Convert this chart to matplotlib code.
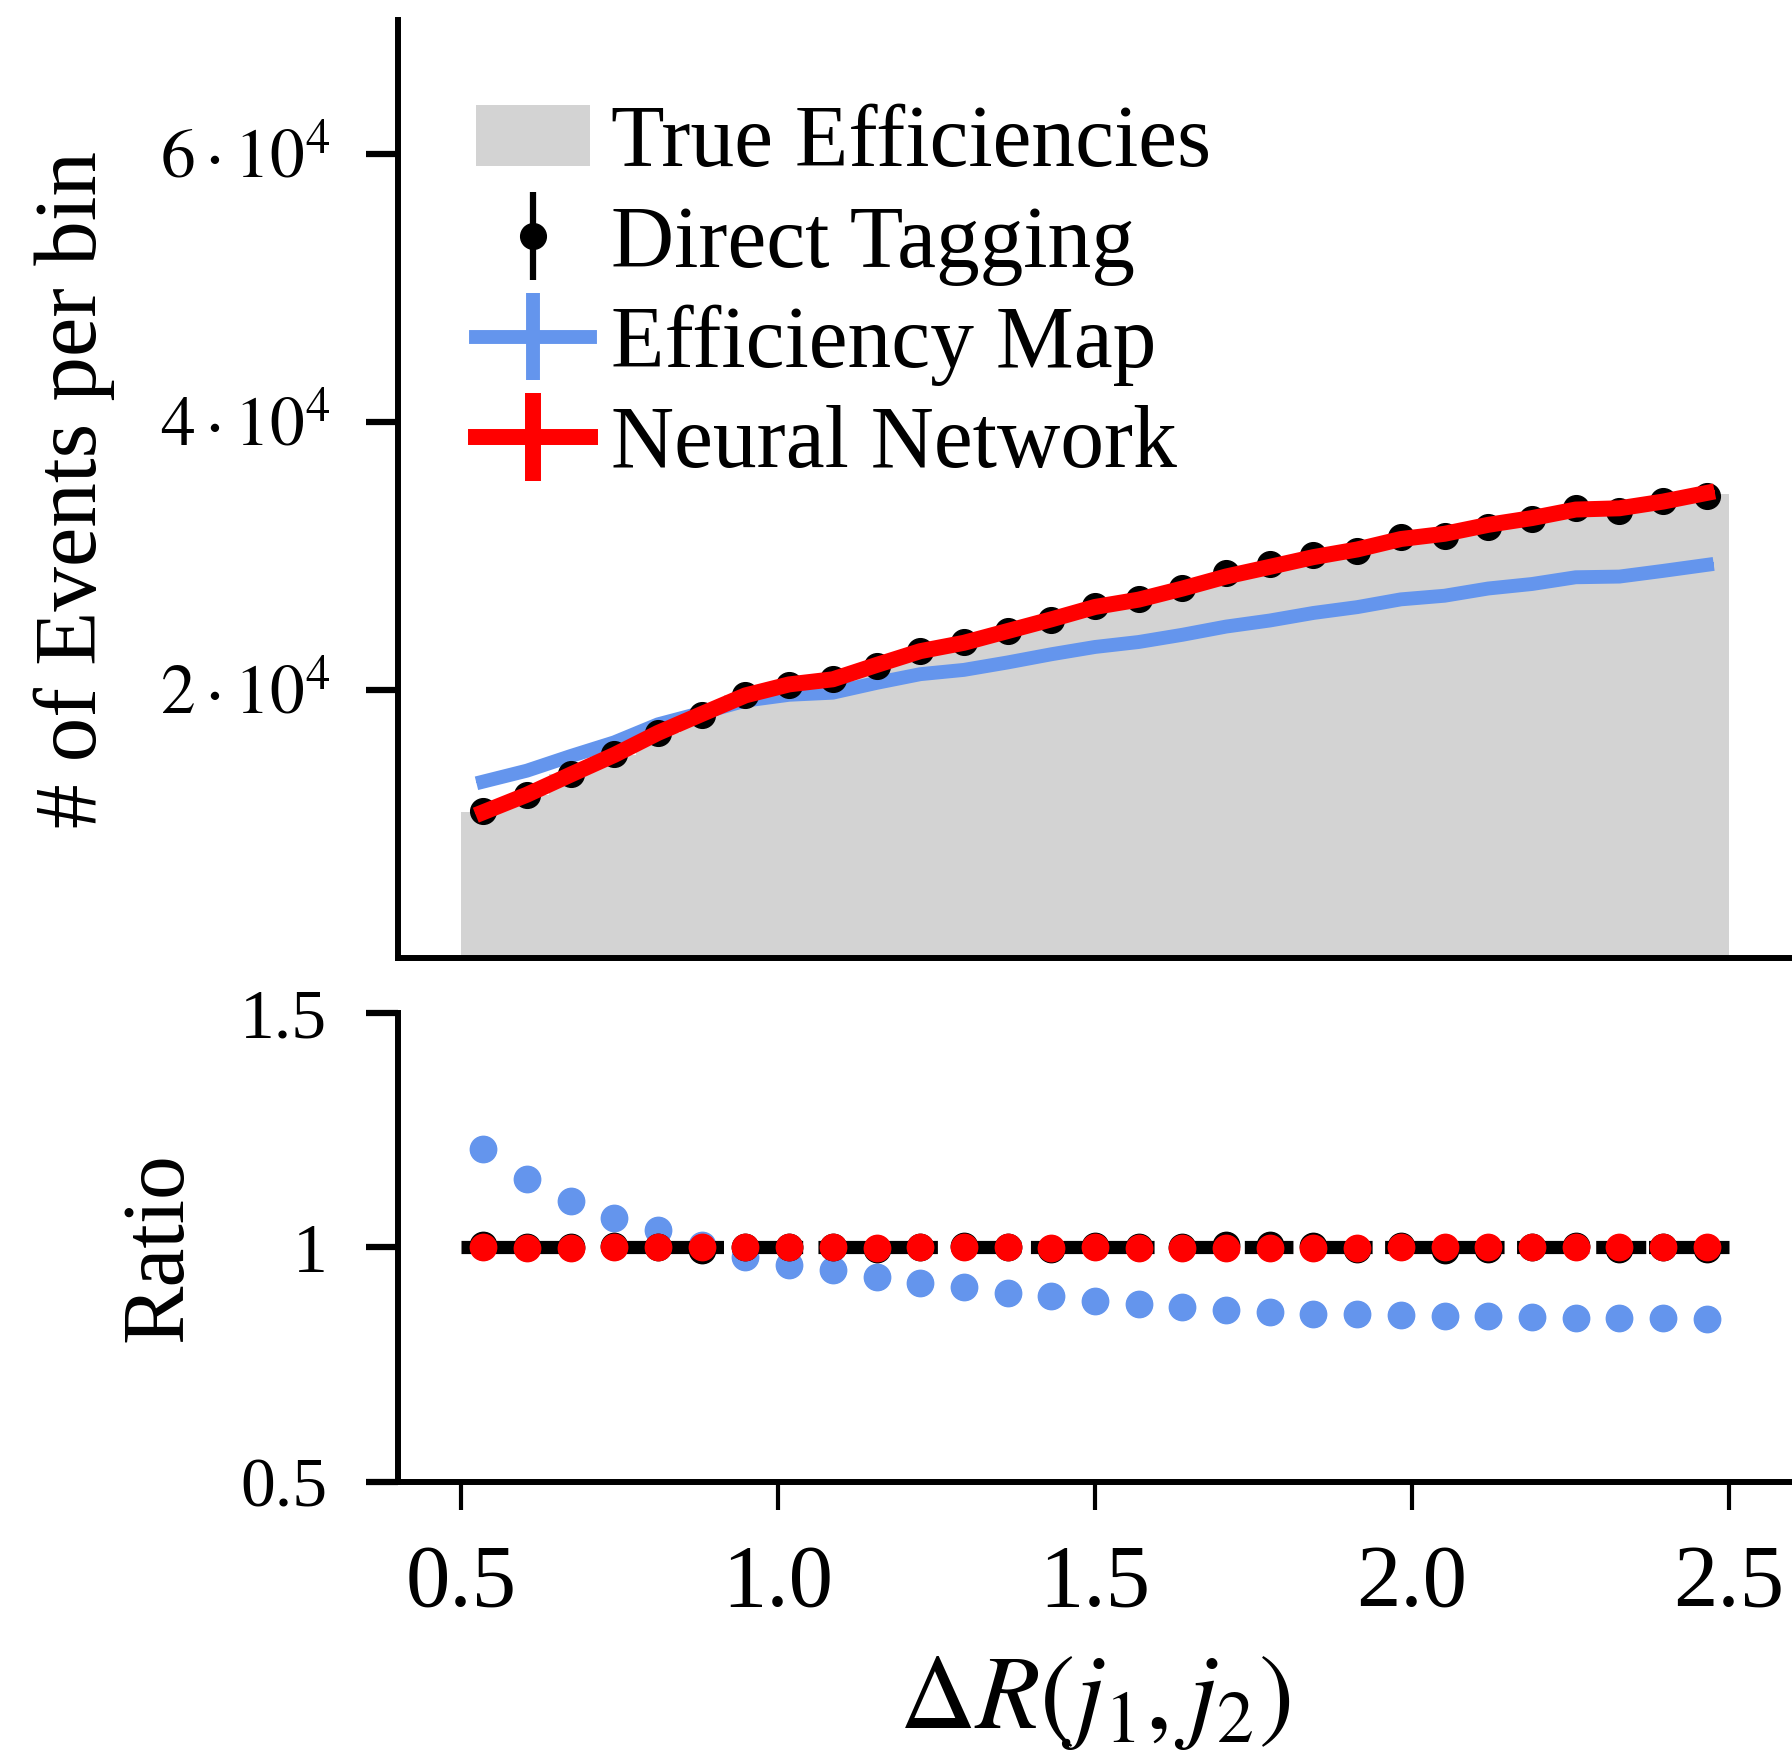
import matplotlib
matplotlib.use('Agg')
import matplotlib.pyplot as plt
import numpy as np

plt.rcParams['font.family'] = ['Liberation Serif', 'DejaVu Serif']
plt.rcParams['mathtext.fontset'] = 'stix'
plt.rcParams['lines.scale_dashes'] = False

# Delta R(j1, j2) binning
bin_lo, bin_hi, n_bins = 0.5, 2.5, 29

# true efficiencies (events per bin)
true_counts = [10880, 12200, 13700, 15140, 16800, 18210, 19600, 20400, 20800, 21890,
               22900, 23500, 24400, 25300, 26200, 26800, 27600, 28530, 29220, 29980,
               30520, 31270, 31660, 32330, 32800, 33470, 33530, 34030, 34640]

# ratios to the true efficiencies
direct_ratio = [1.006, 1.000, 1.000, 1.004, 1.000, 0.994, 1.000, 1.000, 1.000, 0.996,
                1.000, 1.004, 1.000, 0.996, 1.004, 1.000, 1.000, 1.006, 1.006, 1.004,
                0.996, 1.004, 0.995, 0.996, 1.000, 1.004, 0.996, 1.002, 0.996]
nn_ratio = [1.000, 0.999, 0.999, 1.001, 1.000, 1.000, 1.000, 1.001, 1.000, 0.999,
            1.000, 1.001, 1.000, 0.999, 1.000, 0.998, 0.999, 0.998, 0.999, 0.998,
            0.999, 1.000, 1.000, 1.000, 1.001, 1.000, 1.001, 1.001, 1.002]
effmap_ratio = [1.210, 1.146, 1.100, 1.063, 1.038, 1.005, 0.980, 0.963, 0.952, 0.938,
                0.925, 0.915, 0.904, 0.896, 0.886, 0.880, 0.874, 0.867, 0.862, 0.859,
                0.858, 0.856, 0.854, 0.853, 0.851, 0.849, 0.849, 0.849, 0.847]

# statistical uncertainty per bin
stat_err = [104, 110, 117, 123, 130, 135, 140, 143, 144, 148, 151, 154, 156, 159, 162,
            164, 166, 169, 171, 173, 175, 177, 178, 180, 181, 183, 183, 185, 186]

ytick_top = [2e4, 4e4, 6e4]
ytick_top_labels = [r'$2\cdot10^4$', r'$4\cdot10^4$', r'$6\cdot10^4$']
ytick_bot = [0.5, 1.0, 1.5]
ytick_bot_labels = ['0.5', '1', '1.5']
xticks = [0.5, 1.0, 1.5, 2.0, 2.5]

GRAY = '#d3d3d3'
BLUE = '#6495ed'
RED = '#ff0000'

edges = np.linspace(bin_lo, bin_hi, n_bins + 1)
centers = 0.5 * (edges[:-1] + edges[1:])
width = edges[1] - edges[0]
true_counts = np.array(true_counts, dtype=float)
direct = true_counts * np.array(direct_ratio)
nn = true_counts * np.array(nn_ratio)
effmap = true_counts * np.array(effmap_ratio)

fig = plt.figure(figsize=(17.92, 17.62), dpi=100)
ax_top = fig.add_axes([0.2221, 0.4563, 0.7779, 0.5323])
ax_bot = fig.add_axes([0.2221, 0.1589, 0.7779, 0.2662])

# ---- top panel: events per bin
h_true = ax_top.bar(centers, true_counts, width=width, color=GRAY, linewidth=0, zorder=1)
h_em = ax_top.errorbar(centers, effmap, yerr=stat_err, color=BLUE, lw=10,
                       elinewidth=10, capsize=0, zorder=2)
h_dt = ax_top.errorbar(centers, direct, yerr=stat_err, fmt='o', color='black',
                       ms=18.5, elinewidth=4.5, capsize=0, zorder=3)
h_nn = ax_top.errorbar(centers, nn, yerr=stat_err, color=RED, lw=11.5,
                       elinewidth=11.5, capsize=0, zorder=4)

ax_top.set_xlim(0.4, 2.6)
ax_top.set_ylim(0, 7e4)
ax_top.set_yticks(ytick_top)
ax_top.set_yticklabels(ytick_top_labels)
ax_top.tick_params(axis='x', bottom=False, labelbottom=False)
ax_top.tick_params(axis='y', length=23, width=4.5, pad=26, labelsize=50)

ax_top.legend([h_true, h_dt, h_em, h_nn],
              ['True Efficiencies', 'Direct Tagging', 'Efficiency Map', 'Neural Network'],
              loc='upper left', bbox_to_anchor=(0.2655, 0.9408),
              bbox_transform=fig.transFigure, frameon=False, fontsize=63,
              handlelength=1.3, handletextpad=0.24, labelspacing=0.22,
              borderpad=0, borderaxespad=0)

# ---- bottom panel: ratio
ax_bot.plot(centers, effmap_ratio, 'o', color=BLUE, ms=19, zorder=1)
ax_bot.plot([bin_lo, bin_hi], [1, 1], color='black', lw=9.5, solid_capstyle='butt',
            dash_capstyle='butt', zorder=2,
            dashes=(88, 14, 87, 7, 50, 11, 86, 11, 49, 7, 89, 12, 49, 4, 35, 7,
                    50, 9, 86, 9, 52, 5, 36, 2, 60, 0))
ax_bot.plot(centers, direct_ratio, 'o', color='black', ms=19, zorder=3)
ax_bot.plot(centers, nn_ratio, 'o', color=RED, ms=19, zorder=4)

ax_bot.set_xlim(0.4, 2.6)
ax_bot.set_ylim(0.5, 1.5)
ax_bot.set_yticks(ytick_bot)
ax_bot.set_yticklabels(ytick_bot_labels)
ax_bot.set_xticks(xticks)
ax_bot.set_xticklabels(['%.1f' % t for t in xticks])
ax_bot.tick_params(axis='y', length=23, width=4.5, pad=28, labelsize=50)
ax_bot.tick_params(axis='x', length=20, width=3, pad=24, labelsize=64)

for ax in (ax_top, ax_bot):
    ax.spines['top'].set_visible(False)
    ax.spines['right'].set_visible(False)
    ax.spines['left'].set_linewidth(4.3)
    ax.spines['bottom'].set_linewidth(4.3)

fig.text(74 / 1792, 1 - 489 / 1762, '# of Events per bin', rotation=90,
         ha='center', va='center', fontsize=64)
fig.text(160 / 1792, 1 - 1247 / 1762, 'Ratio', rotation=90,
         ha='center', va='center', fontsize=63)
fig.text(1095 / 1792, 1 - 1703 / 1762, r'$\Delta R(j_1,j_2)$',
         ha='center', va='center', fontsize=76)

fig.savefig('out.png', dpi=100)
